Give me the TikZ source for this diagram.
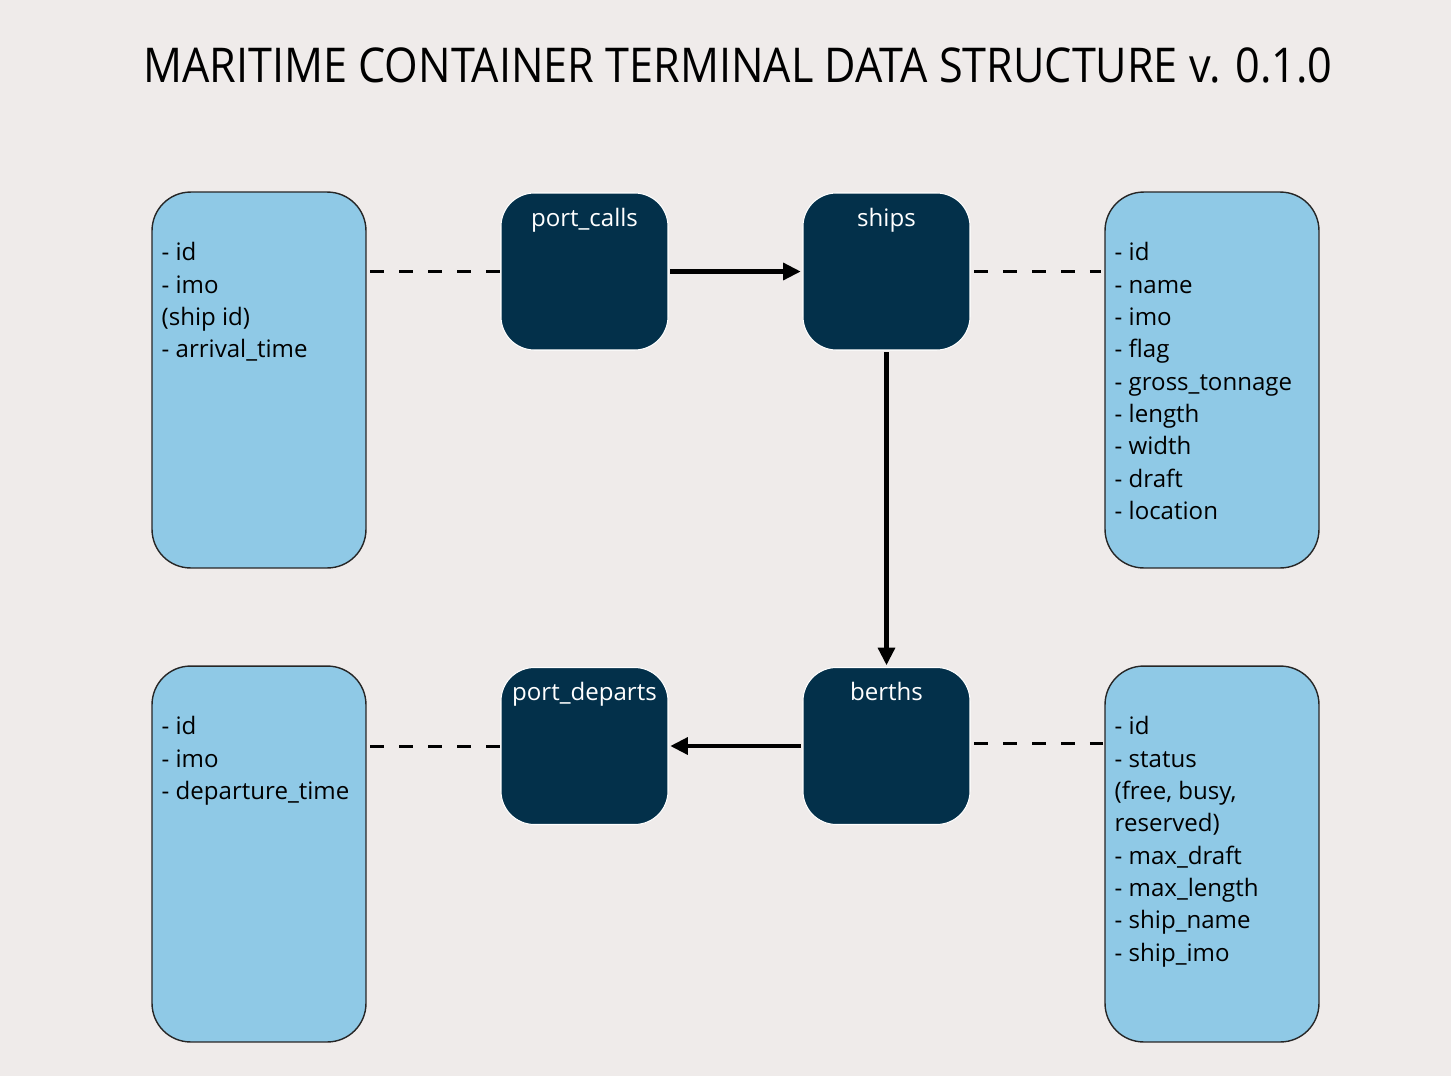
\documentclass[tikz,border=0pt]{standalone}
\usepackage{fontspec}
\setmainfont{Open Sans}
\newfontfamily\headfont{Open Sans}[FakeStretch=0.9]
\usetikzlibrary{positioning,arrows.meta}
\definecolor{bgpaper}{HTML}{EFEBEA}
\definecolor{attrblue}{HTML}{8FC9E6}
\definecolor{tablenavy}{HTML}{03304A}

\begin{document}
\begin{tikzpicture}[x=0.02cm, y=-0.02cm, >={Triangle[length=10pt,width=9.5pt]},
  every node/.style={font=\fontsize{13.7}{18.4}\selectfont}]
\tikzset{
  attrbox/.style={draw=black!85, line width=0.8pt, fill=attrblue, rounded corners=22pt,
    minimum width=4.28cm, minimum height=7.52cm, inner sep=0pt},
  tablebox/.style={draw=white, line width=0.6pt, fill=tablenavy, rounded corners=19pt,
    minimum width=3.34cm, minimum height=3.14cm, inner sep=0pt},
  tabletitle/.style={text=white, inner sep=0pt},
  attrtext/.style={align=left, inner sep=0pt, anchor=north west},
  link/.style={line width=2.3pt, ->, shorten >=1pt, shorten <=1pt},
  ref/.style={line width=1.7pt, dash pattern=on 8pt off 8.5pt}
}
\fill[bgpaper] (0,0) rectangle (1451,1076);
\useasboundingbox (0,0) rectangle (1451,1076);
\node[font=\headfont\fontsize{27.3}{32}\selectfont] (title) at (738,65)
  {MARITIME CONTAINER TERMINAL DATA STRUCTURE v. 0.1.0};
% attribute boxes
\node[attrbox] (callsAttr) at (259,380) {};
\node[attrbox] (departsAttr) at (259,854) {};
\node[attrbox] (shipsAttr) at (1212,380) {};
\node[attrbox] (berthsAttr) at (1212,854) {};
\node[attrtext] (callsList) at ([xshift=0.2cm,yshift=-1.02cm]callsAttr.north west)
  {- id\\- imo\\(ship id)\\- arrival\_time};
\node[attrtext] (departsList) at ([xshift=0.2cm,yshift=-1.02cm]departsAttr.north west)
  {- id\\- imo\\- departure\_time};
\node[attrtext] (shipsList) at ([xshift=0.2cm,yshift=-1.02cm]shipsAttr.north west)
  {- id\\- name\\- imo\\- flag\\- gross\_tonnage\\- length\\- width\\- draft\\- location};
\node[attrtext] (berthsList) at ([xshift=0.2cm,yshift=-1.02cm]berthsAttr.north west)
  {- id\\- status\\(free, busy,\\reserved)\\- max\_draft\\- max\_length\\- ship\_name\\- ship\_imo};
% tables
\node[tablebox] (calls) at (584.5,271.5) {};
\node[tablebox] (ships) at (886.5,271.5) {};
\node[tablebox] (departs) at (584.5,746) {};
\node[tablebox] (berths) at (886.5,746) {};
\node[tabletitle, below=0.3cm of calls.north] (callsTitle) {port\_calls};
\node[tabletitle, below=0.3cm of ships.north] (shipsTitle) {ships};
\node[tabletitle, below=0.3cm of departs.north] (departsTitle) {port\_departs};
\node[tabletitle, below=0.3cm of berths.north] (berthsTitle) {berths};
% relations
\draw[link] (calls) -- (ships);
\draw[link] (ships) -- (berths);
\draw[link] (berths) -- (departs);
\draw[ref, shorten <=2pt] (callsAttr.east |- calls.west) -- (calls.west);
\draw[ref, shorten <=2pt] (departsAttr.east |- departs.west) -- (departs.west);
\draw[ref, shorten <=2pt, shorten >=2pt] (ships.east) -- (ships.east -| shipsAttr.west);
\draw[ref, shorten <=2pt, shorten >=1pt] ([yshift=0.06cm]berths.east) -- ([yshift=0.06cm]berths.east -| berthsAttr.west);
\end{tikzpicture}
\end{document}
